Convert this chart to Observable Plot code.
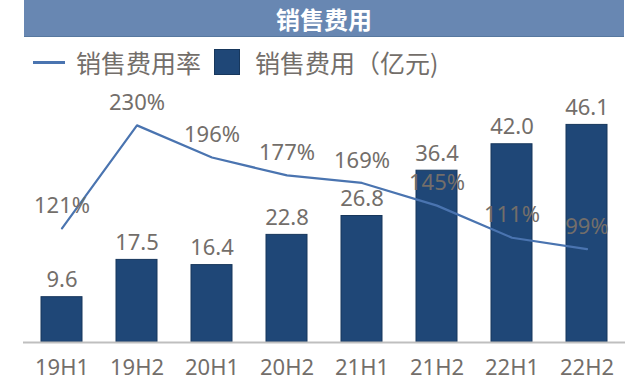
<!DOCTYPE html>
<html><head><meta charset="utf-8">
<script src="https://cdn.jsdelivr.net/npm/d3@7"></script>
<script src="https://cdn.jsdelivr.net/npm/@observablehq/plot@0.6"></script>
<style>
html,body{margin:0;padding:0;background:#fff;}
#wrap{position:relative;width:640px;height:386px;overflow:hidden;}
#title{position:absolute;left:24px;top:0;width:600px;height:36px;background:#6887b2;border-bottom:1px solid #57789f;
  color:#fff;font:bold 24px "Noto Sans CJK SC",sans-serif;text-align:center;line-height:38px;}
.lg{position:absolute;font:25px "Noto Sans CJK SC",sans-serif;color:#736e6a;line-height:26px;top:49px;white-space:nowrap;}
#lgline{position:absolute;left:33px;top:61px;width:32px;height:3px;background:#4a74b0;}
#lgsq{position:absolute;left:214px;top:49px;width:26px;height:26px;background:#1f4777;box-sizing:border-box;border:1px solid #17375c;}
#chart{position:absolute;left:0;top:78px;}
#chart svg{overflow:visible;}
</style></head>
<body><div id="wrap">
<div id="title">销售费用</div>
<div id="lgline"></div><div class="lg" style="left:76px">销售费用率</div>
<div id="lgsq"></div><div class="lg" style="left:255px">销售费用（亿元)</div>
<div id="chart"></div>
</div>
<script>
const periods = ["19H1","19H2","20H1","20H2","21H1","21H2","22H1","22H2"];
const expense = [9.6, 17.5, 16.4, 22.8, 26.8, 36.4, 42.0, 46.1];   // 亿元
const ratePct = [121, 230, 196, 177, 169, 145, 111, 99];          // %
const rateAxisMax = 250, expenseAxisMax = 50; // secondary axis 0–250% aligned with 0–50

const data = periods.map((p, i) => ({period: p, expense: expense[i], rate: ratePct[i],
  rateY: ratePct[i] * expenseAxisMax / rateAxisMax}));

const txt = "#736e6a";
const font = "Noto Sans, sans-serif";
const chart = Plot.plot({
  width: 640, height: 308,
  marginLeft: 23, marginRight: 15, marginTop: 28, marginBottom: 44,
  style: {fontFamily: font, background: "transparent"},
  x: {domain: periods, paddingInner: 0.45, paddingOuter: 0.225, axis: null},
  y: {domain: [0, expenseAxisMax], axis: null},
  marks: [
    Plot.barY(data, {x: "period", y: "expense", fill: "#1f4777", stroke: "#17375c", strokeWidth: 1}),
    Plot.ruleY([0], {stroke: "#bfbfbf", strokeWidth: 2}),
    Plot.line(data, {x: "period", y: "rateY", stroke: "#4a74b0", strokeWidth: 2.2}),
    Plot.text(data, {x: "period", y: "expense", text: d => d.expense.toFixed(1), dy: -17,
      fill: txt, fontSize: 22, lineAnchor: "middle"}),
    Plot.text(data, {x: "period", y: "rateY", text: d => d.rate + "%", dy: -22.5,
      fill: txt, fontSize: 22, lineAnchor: "middle"}),
    Plot.text(data, {x: "period", text: "period", frameAnchor: "bottom", dy: 25,
      fill: txt, fontSize: 22, lineAnchor: "middle"})
  ]
});
document.getElementById("chart").appendChild(chart);
</script>
</body></html>
